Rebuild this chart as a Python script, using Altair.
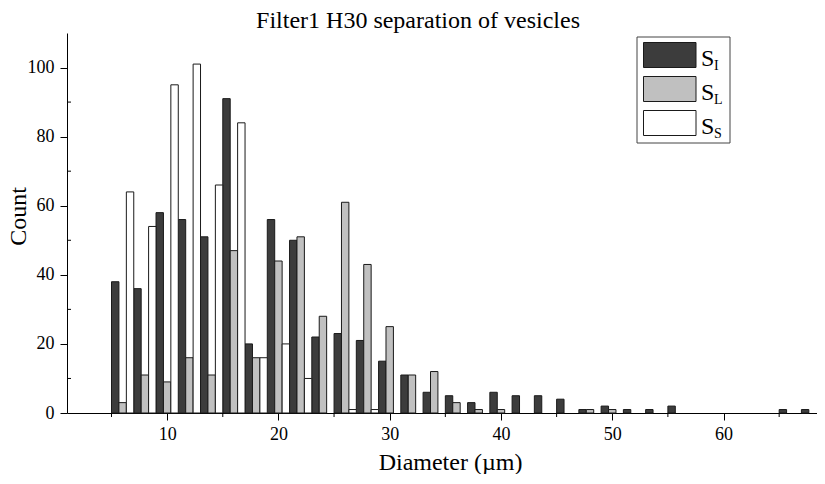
import altair as alt
import pandas as pd

# ---- data ----
bin_start = list(range(5, 69, 2))  # bins [5,7), [7,9), ... [67,69)
series = ["S_I", "S_L", "S_S"]
S_I = [38, 36, 58, 56, 51, 91, 20, 56, 50, 22, 23, 21, 15, 11, 6, 5,
       3, 6, 5, 5, 4, 1, 2, 1, 1, 2, 0, 0, 0, 0, 1, 1]
S_L = [3, 11, 9, 16, 11, 47, 16, 44, 51, 28, 61, 43, 25, 11, 12, 3,
       1, 1, 0, 0, 0, 1, 1, 0, 0, 0, 0, 0, 0, 0, 0, 0]
S_S = [64, 54, 95, 101, 66, 84, 16, 20, 10, 0, 1, 1, 0, 0, 0, 0,
       0, 0, 0, 0, 0, 0, 0, 0, 0, 0, 0, 0, 0, 0, 0, 0]
x_major = [10, 20, 30, 40, 50, 60]
x_minor = [5, 15, 25, 35, 45, 55, 65]
y_major = [0, 20, 40, 60, 80, 100]
y_minor = [10, 30, 50, 70, 90]
colors = ["#3c3c3c", "#c0c0c0", "#ffffff"]
sub_labels = ["I", "L", "S"]

FONT = "Liberation Serif"

rows = []
for si, (name, vals) in enumerate(zip(series, [S_I, S_L, S_S])):
    for s, v in zip(bin_start, vals):
        if v > 0:
            rows.append({"series": name, "x": s + si * 2 / 3,
                         "x2": s + (si + 1) * 2 / 3, "count": v, "zero": 0})
df = pd.DataFrame(rows)

W, H = 750, 380

xscale = alt.Scale(domain=[1, 68.4], nice=False, zero=False)
yscale = alt.Scale(domain=[0, 110], nice=False)
xaxis = alt.Axis(values=x_major, title="Diameter (µm)",
                 titleX=383, titleY=56, titleBaseline="alphabetic",
                 labelPadding=5)
yaxis = alt.Axis(values=y_major, title="Count",
                 titleX=-37, titleY=183, labelPadding=6)

bars = alt.Chart(df).mark_rect(stroke="#1a1a1a", strokeWidth=1).encode(
    x=alt.X("x:Q", scale=xscale, axis=xaxis),
    x2="x2:Q",
    y=alt.Y("count:Q", scale=yscale, axis=yaxis),
    y2="zero:Q",
    color=alt.Color("series:N", scale=alt.Scale(domain=series, range=colors),
                    legend=None),
)

ymin = alt.Chart(pd.DataFrame({"count": y_minor})).mark_rule(
    color="black", strokeWidth=1).encode(
    y=alt.Y("count:Q", scale=yscale, axis=yaxis),
    x=alt.value(0), x2=alt.value(4))

xmin = alt.Chart(pd.DataFrame({"x": x_minor})).mark_rule(
    color="black", strokeWidth=1).encode(
    x=alt.X("x:Q", scale=xscale, axis=xaxis),
    y=alt.value(H), y2=alt.value(H + 4))

one = pd.DataFrame({"a": [0]})
legend_layers = [
    alt.Chart(one).mark_rect(fill="white", stroke="#444", strokeWidth=1).encode(
        x=alt.value(570), x2=alt.value(663), y=alt.value(4), y2=alt.value(110))
]
for i in range(3):
    y0 = 9.5 + 34 * i
    legend_layers.append(
        alt.Chart(one).mark_rect(fill=colors[i], stroke="#1a1a1a", strokeWidth=1).encode(
            x=alt.value(576.5), x2=alt.value(629), y=alt.value(y0), y2=alt.value(y0 + 25)))
    legend_layers.append(
        alt.Chart(one).mark_text(font=FONT, fontSize=24, align="left",
                                 baseline="alphabetic", color="black").encode(
            x=alt.value(634), y=alt.value(y0 + 23), text=alt.value("S")))
    legend_layers.append(
        alt.Chart(one).mark_text(font=FONT, fontSize=14, align="left",
                                 baseline="alphabetic", color="black").encode(
            x=alt.value(647), y=alt.value(y0 + 27), text=alt.value(sub_labels[i])))

chart = alt.layer(bars, ymin, xmin, *legend_layers).properties(
    width=W, height=H,
    title=alt.TitleParams("Filter1 H30 separation of vesicles", font=FONT,
                          fontSize=24, fontWeight="normal", color="black",
                          anchor="middle", dx=-24, offset=0),
    autosize=alt.AutoSizeParams(type="none"),
    padding={"left": 59, "top": 25, "right": 0, "bottom": 61},
).configure_view(strokeWidth=0).configure_axis(
    labelFont=FONT, labelFontSize=18, labelColor="black",
    titleFont=FONT, titleFontSize=24, titleFontWeight="normal", titleColor="black",
    domainColor="black", domainWidth=1, tickColor="black", tickSize=7,
    tickWidth=1, grid=False,
)

chart.save("out.html", embed_options={"renderer": "svg", "actions": False})
